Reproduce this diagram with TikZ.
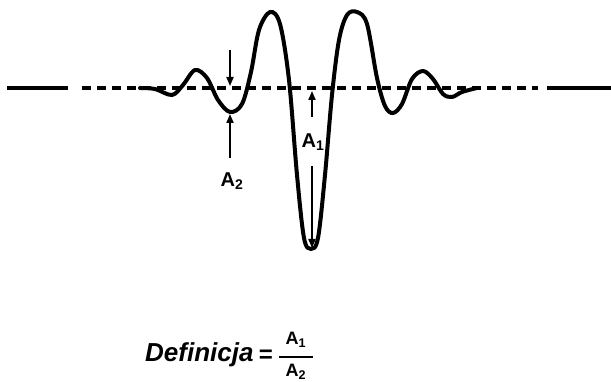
\documentclass[tikz,border=0pt]{standalone}
\usepackage{fontspec}
\setmainfont{Liberation Sans}
\usetikzlibrary{arrows.meta}
\begin{document}
\begin{tikzpicture}[x=1pt,y=-1pt,
  wave/.style={line width=4pt,line join=round,line cap=round},
  base/.style={line width=3.8pt},
  dashbase/.style={line width=3.8pt,dash pattern=on 9pt off 6pt},
  marker/.style={line width=1.9pt,-{Triangle[length=9pt,width=7pt]}},
  lab/.style={font=\bfseries\fontsize{20}{20}\selectfont,inner sep=0pt},
  fraclab/.style={font=\bfseries\fontsize{18}{18}\selectfont,inner sep=0pt}]
\useasboundingbox (0,0) rectangle (611,382);
% baseline
\coordinate (l0) at (7,88);
\coordinate (l1) at (68,88);
\coordinate (r0) at (547,88);
\coordinate (r1) at (611,88);
\coordinate (d0) at (82,88);
\coordinate (d1) at (538,88);
\draw[base] (l0) -- (l1);
\draw[base] (r0) -- (r1);
\draw[dashbase] (d0) -- (d1);
% wavelet
\draw[wave] plot[smooth,tension=0.55] coordinates {
 (140,88) (155,89) (172,95) (183,85) (195,70) (207,78) (218,100) (230,112)
 (242,104) (251,72) (259,30) (270,12) (280,24) (289,80) (297,175) (304,238)
 (311,249) (318,238) (325,175) (332,95) (339,40) (347,15) (357,12) (367,24)
 (377,78) (385,106) (393,113) (402,104) (412,79) (423,71) (433,79) (443,94)
 (452,97) (462,92) (477,88) };
% A2 markers
\coordinate (a2top) at (230,50);
\coordinate (a2base) at (230,86);
\coordinate (a2bot) at (230,114);
\node[lab] (A2) at (232,181) {A\textsubscript{2}};
\coordinate (a2from) at (230,158);
\draw[marker] (a2top) -- (a2base);
\draw[marker] (a2from) -- (a2bot);
% A1 markers
\node[lab] (A1) at (313,142) {A\textsubscript{1}};
\coordinate (a1base) at (312,91);
\coordinate (a1up) at (312,117);
\coordinate (a1dn) at (312,166);
\coordinate (a1low) at (312,248);
\draw[marker] (a1up) -- (a1base);
\draw[marker] (a1dn) -- (a1low);
% formula
\node[inner sep=0pt,anchor=base west] (def) at (145,362)
  {\fontsize{26}{26}\selectfont\bfseries\itshape Definicja};
\node[inner sep=0pt] (eq) at (266,356) {\fontsize{24}{24}\selectfont\bfseries =};
\node[fraclab] (num) at (296,340) {A\textsubscript{1}};
\node[fraclab] (den) at (296,372) {A\textsubscript{2}};
\coordinate (bar0) at (279,357);
\coordinate (bar1) at (313,357);
\draw[line width=2pt] (bar0) -- (bar1);
\end{tikzpicture}
\end{document}
